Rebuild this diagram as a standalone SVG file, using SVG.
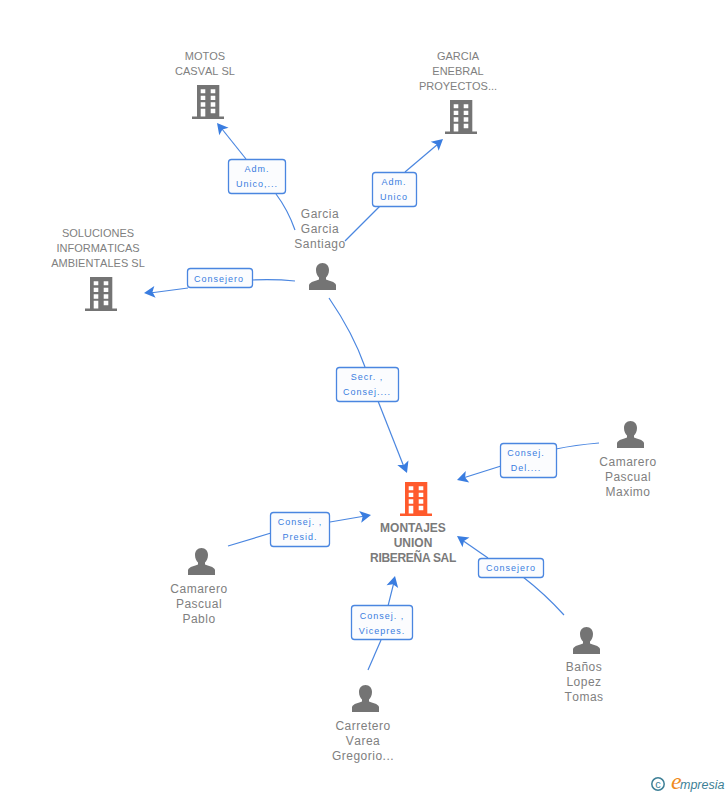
<svg xmlns="http://www.w3.org/2000/svg" width="728" height="795" viewBox="0 0 728 795">
<style>
text{font-family:"Liberation Sans",Arial,sans-serif}
.n{font-size:11px;fill:#808080;text-anchor:middle;font-kerning:none}
.p{font-size:12px;fill:#808080;text-anchor:middle;letter-spacing:.5px;font-kerning:none}
.b{font-size:12px;font-weight:bold;fill:#7a7a7a;text-anchor:middle}
.l{font-size:9px;fill:#3a7de0;text-anchor:middle;letter-spacing:1px}
.box{fill:#fbfcfe;stroke:#4a86e0;stroke-width:1.3}
.c{fill:none;stroke:#4a86e0;stroke-width:1.2}
.h{fill:#3a7de0}
</style>
<defs>
<g id="bld"><path fill-rule="evenodd" d="M5 0H27.300V31.500H32V34H0V31.500H5ZM8.700 4.300V8.300H13.300V4.300ZM18.700 4.300V8.300H23.300V4.300ZM8.700 10.700V15H13.300V10.700ZM18.700 10.700V15H23.300V10.700ZM8.700 17.300V21.700H13.300V17.300ZM18.700 17.300V21.700H23.300V17.300ZM8.700 23.700V31.500H13.300V23.700ZM18.700 23.700V28.300H23.300V23.700Z"/></g>
<path id="per" fill="#747474" d="M13.500 0C17.500 0 20 3 20 7C20 10.500 18.500 13 17 14.500V16.500C20 18 26 18.500 27 22V27H0V22C1 18.500 7 18 10 16.500V14.500C8.500 13 7 10.500 7 7C7 3 9.500 0 13.500 0Z"/>
<path id="ah" d="M0 0L11 -6L8.500 0L11 6Z"/>
</defs>
<g id="connectors">
<path class="c" d="M222 129L246 159"/><path class="c" d="M276 194Q288 210 295 230"/>
<path class="c" d="M438 144L405 172"/><path class="c" d="M380 206L345 241"/>
<path class="c" d="M150 293L188 288"/><path class="c" d="M252 280Q275 279 295 281"/>
<path class="c" d="M329 298Q353 333 365 367"/><path class="c" d="M404 467L378 401"/>
<path class="c" d="M463 478L501 466"/><path class="c" d="M556 449Q575 445 599 443"/>
<path class="c" d="M365 516L330 522"/><path class="c" d="M228 546L271 533"/>
<path class="c" d="M394 582L388 606"/><path class="c" d="M381 640L368 670"/>
<path class="c" d="M462 540L488 558"/><path class="c" d="M523 577Q545 594 564 615"/>
<use class="h" href="#ah" transform="translate(217 123) rotate(51)"/>
<use class="h" href="#ah" transform="translate(443 139) rotate(139)"/>
<use class="h" href="#ah" transform="translate(144 293) rotate(-6)"/>
<use class="h" href="#ah" transform="translate(407 473) rotate(248)"/>
<use class="h" href="#ah" transform="translate(457 480) rotate(-17)"/>
<use class="h" href="#ah" transform="translate(371 515) rotate(170)"/>
<use class="h" href="#ah" transform="translate(395 576) rotate(104)"/>
<use class="h" href="#ah" transform="translate(457 536) rotate(35)"/>
</g>
<g id="motos"><use href="#bld" x="192" y="85" fill="#747474"/><text class="n" x="205" y="60">MOTOS</text><text class="n" x="205" y="75">CASVAL SL</text></g>
<g id="garcia-enebral"><use href="#bld" x="445" y="100" fill="#747474"/><text class="n" x="458" y="60">GARCIA</text><text class="n" x="458" y="75">ENEBRAL</text><text class="n" x="458" y="90">PROYECTOS...</text></g>
<g id="soluciones"><use href="#bld" x="85" y="277" fill="#747474"/><text class="n" x="98" y="237">SOLUCIONES</text><text class="n" x="98" y="252">INFORMATICAS</text><text class="n" x="98" y="267">AMBIENTALES SL</text></g>
<g id="montajes"><use href="#bld" x="400" y="482" fill="#ff5a2c"/><text class="b" x="413" y="532">MONTAJES</text><text class="b" x="413" y="547">UNION</text><text class="b" x="413" y="562" letter-spacing="-.3">RIBEREÑA SAL</text></g>
<g id="garcia-santiago"><use href="#per" x="309" y="263"/><text class="p" x="320" y="218">Garcia</text><text class="p" x="320" y="233">Garcia</text><text class="p" x="320" y="248">Santiago</text></g>
<g id="maximo"><use href="#per" x="617" y="421"/><text class="p" x="628" y="466">Camarero</text><text class="p" x="628" y="481">Pascual</text><text class="p" x="628" y="496">Maximo</text></g>
<g id="pablo"><use href="#per" x="188" y="548"/><text class="p" x="199" y="593">Camarero</text><text class="p" x="199" y="608">Pascual</text><text class="p" x="199" y="623">Pablo</text></g>
<g id="tomas"><use href="#per" x="573" y="627"/><text class="p" x="584" y="671">Baños</text><text class="p" x="584" y="686">Lopez</text><text class="p" x="584" y="701">Tomas</text></g>
<g id="carretero"><use href="#per" x="352" y="685"/><text class="p" x="363" y="730">Carretero</text><text class="p" x="363" y="745">Varea</text><text class="p" x="363" y="760">Gregorio...</text></g>
<g id="label-1"><rect class="box" x="228.500" y="159.500" width="57" height="34" rx="3"/><text class="l" x="257" y="172">Adm.</text><text class="l" x="257" y="187">Unico,...</text></g>
<g id="label-2"><rect class="box" x="372.500" y="172.500" width="44" height="34" rx="3"/><text class="l" x="394" y="185">Adm.</text><text class="l" x="394" y="200">Unico</text></g>
<g id="label-3"><rect class="box" x="187.500" y="268.500" width="65" height="19" rx="3"/><text class="l" x="219" y="282">Consejero</text></g>
<g id="label-4"><rect class="box" x="336.500" y="367.500" width="62" height="34" rx="3"/><text class="l" x="367" y="380">Secr. ,</text><text class="l" x="367" y="395">Consej....</text></g>
<g id="label-5"><rect class="box" x="500.500" y="443.500" width="56" height="34" rx="3"/><text class="l" x="526" y="456">Consej.</text><text class="l" x="526" y="471">Del....</text></g>
<g id="label-6"><rect class="box" x="270.500" y="512.500" width="59" height="34" rx="3"/><text class="l" x="300" y="525">Consej. ,</text><text class="l" x="300" y="540">Presid.</text></g>
<g id="label-7"><rect class="box" x="351.500" y="605.500" width="61" height="34" rx="3"/><text class="l" x="382" y="619">Consej. ,</text><text class="l" x="382" y="634">Vicepres.</text></g>
<g id="label-8"><rect class="box" x="478.500" y="558.500" width="65" height="19" rx="3"/><text class="l" x="511" y="571">Consejero</text></g>
<g id="brand"><circle cx="658" cy="784" r="6.200" fill="none" stroke="#3d7f96" stroke-width="1.500"/><text x="658" y="788" font-size="11" fill="#3d7f96" text-anchor="middle">c</text><text x="671" y="789" font-size="24" font-style="italic" fill="#f08a1c" style="font-family:'Liberation Serif',serif">e</text><text x="680" y="789" font-size="12.500" font-style="italic" fill="#3d7f96">mpresia</text></g>
</svg>
